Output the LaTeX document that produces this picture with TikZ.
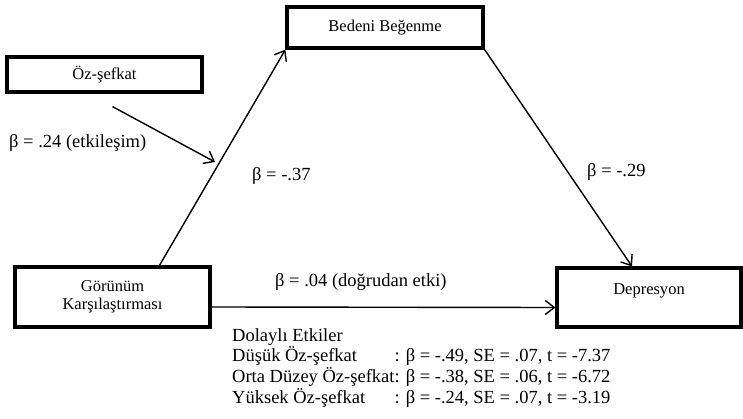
\documentclass[tikz,border=0pt]{standalone}
\usepackage{fontspec}
\setmainfont{Liberation Serif}
\usetikzlibrary{arrows.meta}
\tikzset{
  varbox/.style = {rectangle, draw, line width=3.2pt, align=center, inner sep=0pt, font=\fontsize{16.5}{18}\selectfont},
  effect/.style = {line width=1.4pt, -{Straight Barb[length=9pt, width=14pt, line width=1.4pt]}},
  coef/.style = {anchor=base west, inner sep=0pt, font=\fontsize{18.5}{22}\selectfont}
}

\begin{document}
\begin{tikzpicture}[x=1pt, y=-1pt]
    \useasboundingbox (0,0) rectangle (743,419);
    % kutular
    \node[varbox, minimum width=195pt, minimum height=35pt] (oz) at (104.5,74.5) {Öz-şefkat};
    \node[varbox, minimum width=196pt, minimum height=41pt] (bedeni) at (385,27.5) {Bedeni Beğenme};
    \node[varbox, minimum width=195pt, minimum height=60pt] (gorunum) at (112.5,297) {Görünüm\\Karşılaştırması};
    \node[varbox, minimum width=184pt, minimum height=59pt, text depth=17pt] (depresyon) at (649,297.5) {Depresyon};
    % oklar
    \draw[effect] ([xshift=47pt]gorunum.north) -- (bedeni.south west);
    \draw[effect] (bedeni.south east) -- ([xshift=-17pt]depresyon.north);
    \draw[effect] ([yshift=-10pt]gorunum.east) -- ([yshift=-10pt]depresyon.west);
    \coordinate (modpt) at (215,162);
    \draw[effect] ([xshift=8pt,yshift=-13pt]oz.south) -- (modpt);
    % katsayilar
    \node[coef] (b24) at (9,148) {β = .24 (etkileşim)};
    \node[coef] (b37) at (252,181) {β = -.37};
    \node[coef] (b29) at (587,177) {β = -.29};
    \node[coef] (b04) at (275,287) {β = .04 (doğrudan etki)};
    % dolayli etkiler
    \node[coef, font=\fontsize{18.5}{19.5}\selectfont] (dolayli) at (232,341) {%
      \begin{tabular}[t]{@{}l@{}l@{}}
        Dolaylı Etkiler & \\
        Düşük Öz-şefkat & : β = -.49, SE = .07, t = -7.37\\
        Orta Düzey Öz-şefkat & : β = -.38, SE = .06, t = -6.72\\
        Yüksek Öz-şefkat & : β = -.24, SE = .07, t = -3.19
      \end{tabular}};
\end{tikzpicture}
\end{document}
